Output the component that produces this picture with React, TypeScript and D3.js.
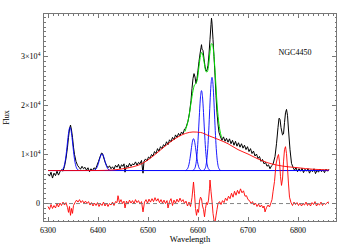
import React from "react";
import * as d3 from "d3";

// Units: flux in 10^4
const xTicks = [6300, 6400, 6500, 6600, 6700, 6800];
const yTicks = [0, 1, 2, 3];
const yTickLabels = ["0", "1×10", "2×10", "3×10"];

const spectrumWave = [6300,6303,6306,6309,6312,6315,6318,6321,6324,6327,6330,6333,6336,6339,6341,6343,6345,6347,6349,6351,6353,6356,6359,6362,6365,6368,6371,6374,6377,6380,6383,6386,6389,6392,6395,6398,6401,6404,6407,6409,6411,6414,6417,6420,6423,6426,6429,6432,6435,6438,6441,6444,6447,6450,6452,6454,6457,6460,6463,6466,6469,6472,6475,6478,6481,6484,6487,6490,6492,6495,6498,6501,6504,6507,6510,6513,6516,6519,6522,6525,6528,6531,6534,6537,6540,6543,6546,6549,6552,6555,6558,6561,6564,6567,6570,6573,6576,6580,6583,6586,6588,6590,6592,6594,6596,6598,6600,6602,6604,6606,6607,6608,6610,6612,6614,6616,6618,6620,6622,6624,6626,6627,6628,6630,6632,6634,6636,6638,6640,6642,6645,6648,6651,6654,6657,6660,6663,6666,6669,6672,6675,6678,6681,6684,6687,6690,6693,6696,6699,6702,6705,6708,6711,6714,6717,6720,6723,6726,6729,6732,6735,6738,6741,6744,6747,6750,6754,6757,6760,6762,6764,6766,6769,6771,6773,6775,6777,6779,6781,6784,6787,6790,6793,6796,6799,6802,6805,6808,6811,6814,6817,6820,6823,6826,6829,6832,6835,6838,6841,6844,6847,6850,6853,6856,6859,6862];
const spectrumFlux = [0.60,0.56,0.64,0.52,0.62,0.57,0.66,0.58,0.65,0.69,0.66,0.76,0.92,1.15,1.35,1.52,1.60,1.50,1.35,1.15,1.00,0.86,0.78,0.74,0.70,0.76,0.71,0.74,0.68,0.73,0.65,0.71,0.67,0.73,0.70,0.78,0.86,0.95,1.03,1.02,0.95,0.85,0.78,0.73,0.77,0.71,0.75,0.70,0.78,0.74,0.80,0.71,0.79,0.76,0.81,0.64,0.78,0.74,0.82,0.76,0.81,0.79,0.85,0.78,0.84,0.81,0.88,0.62,0.86,0.91,0.87,0.95,0.92,1.00,0.97,1.06,1.02,1.12,1.07,1.16,1.12,1.20,1.17,1.26,1.20,1.30,1.26,1.35,1.30,1.40,1.35,1.43,1.38,1.46,1.42,1.52,1.55,1.68,1.85,2.10,2.35,2.55,2.65,2.58,2.45,2.55,2.72,2.90,3.05,3.18,3.24,3.15,3.12,2.95,2.80,2.70,2.72,2.82,3.05,3.35,3.65,3.78,3.68,3.35,3.00,2.62,2.20,1.85,1.62,1.45,1.36,1.29,1.36,1.27,1.33,1.25,1.32,1.22,1.29,1.19,1.27,1.17,1.24,1.15,1.22,1.13,1.19,1.10,1.16,1.06,1.12,1.02,1.07,0.97,1.01,0.92,0.96,0.86,0.90,0.81,0.84,0.76,0.79,0.71,0.77,0.80,0.96,1.22,1.55,1.74,1.72,1.55,1.40,1.42,1.65,1.85,1.92,1.80,1.50,1.10,0.82,0.74,0.68,0.73,0.65,0.71,0.66,0.72,0.63,0.70,0.66,0.71,0.62,0.69,0.65,0.71,0.61,0.68,0.64,0.70,0.65,0.69,0.63,0.70,0.66,0.70];

const residualWave = [6300,6303,6306,6309,6312,6315,6318,6321,6324,6327,6330,6333,6336,6339,6341,6343,6345,6347,6349,6351,6354,6357,6360,6363,6366,6369,6372,6375,6378,6381,6384,6387,6390,6393,6396,6399,6402,6405,6408,6411,6414,6417,6420,6423,6426,6429,6432,6435,6438,6440,6443,6446,6449,6452,6454,6457,6460,6463,6466,6469,6472,6475,6478,6481,6484,6487,6490,6493,6496,6499,6502,6505,6508,6511,6514,6517,6520,6523,6526,6529,6532,6535,6538,6540,6543,6546,6549,6552,6555,6558,6561,6564,6567,6570,6573,6576,6579,6582,6585,6588,6591,6593,6595,6597,6599,6601,6603,6605,6607,6609,6611,6613,6615,6617,6619,6621,6623,6624,6626,6628,6630,6632,6634,6636,6638,6640,6643,6646,6649,6652,6655,6658,6661,6664,6667,6670,6673,6676,6679,6682,6685,6688,6691,6694,6697,6700,6703,6706,6709,6712,6715,6718,6721,6724,6727,6730,6732,6734,6737,6740,6743,6746,6748,6750,6753,6756,6759,6761,6763,6765,6767,6769,6771,6773,6775,6777,6779,6781,6783,6786,6789,6792,6795,6798,6801,6804,6807,6810,6813,6816,6819,6822,6825,6828,6831,6834,6837,6840,6843,6846,6849,6852,6855,6858,6862];
const residualFlux = [-0.06,-0.12,-0.02,-0.10,-0.04,-0.09,0.00,-0.07,0.01,-0.04,0.03,-0.03,0.02,-0.08,-0.18,-0.06,-0.24,-0.10,-0.20,-0.04,0.02,0.07,0.03,0.08,0.02,0.06,0.01,0.05,0.00,0.04,-0.03,0.02,-0.05,0.01,-0.04,0.02,-0.06,0.00,-0.04,0.03,-0.05,0.01,-0.06,0.00,-0.03,0.03,-0.04,0.04,0.02,0.16,0.02,0.08,0.00,0.05,-0.09,0.05,-0.01,0.07,0.01,0.06,0.00,0.08,0.02,0.06,-0.01,0.04,-0.17,0.03,0.08,0.01,0.09,0.03,0.10,0.04,0.12,0.05,0.10,0.02,0.08,0.01,0.07,0.00,0.06,-0.09,0.04,0.10,-0.04,0.07,0.01,0.09,0.03,0.11,0.04,0.08,0.00,0.05,-0.05,0.03,-0.06,0.12,0.44,0.20,-0.10,-0.24,-0.12,-0.18,0.05,0.13,0.10,-0.05,-0.12,-0.27,-0.10,0.02,-0.02,0.07,0.30,0.48,0.25,0.05,-0.20,-0.34,-0.38,-0.25,-0.12,0.00,0.04,-0.02,0.06,0.02,0.11,0.06,0.15,0.10,0.21,0.13,0.25,0.17,0.27,0.20,0.30,0.22,0.26,0.15,0.16,0.08,0.06,0.00,0.04,-0.03,0.01,-0.06,-0.01,-0.07,-0.03,-0.09,-0.05,-0.17,-0.08,-0.03,-0.07,0.02,0.08,0.24,0.45,0.80,0.95,1.00,0.85,0.55,0.37,0.50,0.85,1.10,1.16,1.02,0.72,0.40,0.13,0.02,-0.04,0.03,-0.02,0.02,-0.04,0.01,-0.05,0.00,-0.03,0.03,-0.04,0.01,-0.05,0.02,-0.02,0.04,-0.05,0.00,-0.03,0.03,-0.04,0.01,-0.02,0.02,0.03];

const continuumWave = [6300, 6862];
const continuumFlux = [0.673, 0.673];

const broadWave = [6300,6350,6400,6430,6450,6470,6485,6500,6520,6540,6560,6575,6590,6605,6620,6640,6660,6680,6700,6720,6740,6760,6780,6800,6830,6862];
const broadFlux = [0.673,0.673,0.674,0.685,0.71,0.75,0.80,0.89,1.05,1.22,1.36,1.43,1.46,1.45,1.39,1.31,1.22,1.10,1.01,0.91,0.83,0.78,0.75,0.73,0.70,0.686];

const totalWave = [6574,6578,6582,6586,6590,6593,6596,6599,6602,6605,6607,6609,6612,6615,6618,6621,6624,6627,6629,6632,6635,6638,6641,6644,6648];
const totalFlux = [1.47,1.60,1.78,2.05,2.30,2.42,2.45,2.55,2.80,3.02,3.08,3.05,2.90,2.72,2.68,2.80,3.10,3.26,3.25,3.00,2.55,2.05,1.70,1.48,1.34];

const oiAWave = [6326,6328,6330,6332,6334,6336,6338,6340,6342,6344,6346,6348,6350,6352,6354,6356,6358,6360,6362];
const oiAFlux = [0.673,0.685,0.707,0.755,0.842,0.978,1.159,1.349,1.497,1.553,1.497,1.349,1.159,0.978,0.842,0.755,0.707,0.685,0.673];
const oiBWave = [6390,6392,6394,6396,6398,6400,6402,6404,6406,6408,6410,6412,6414,6416,6418,6420,6422,6424,6426];
const oiBFlux = [0.673,0.678,0.686,0.705,0.738,0.791,0.861,0.934,0.991,1.013,0.991,0.934,0.861,0.791,0.738,0.705,0.686,0.678,0.673];
const niiAWave = [6575,6577,6579,6581,6583,6585,6587,6589,6591,6593,6595,6597,6599,6601,6603,6605,6607];
const niiAFlux = [0.673,0.686,0.709,0.761,0.854,0.990,1.145,1.273,1.323,1.273,1.145,0.990,0.854,0.761,0.709,0.686,0.673];
const haWave = [6589,6591,6593,6595,6597,6599,6601,6603,6605,6607,6609,6611,6613,6615,6617,6619,6621,6623,6625];
const haFlux = [0.673,0.683,0.706,0.764,0.893,1.126,1.467,1.856,2.177,2.303,2.177,1.856,1.467,1.126,0.893,0.764,0.706,0.683,0.673];
const niiBWave = [6610,6612,6614,6616,6618,6620,6622,6624,6626,6628,6630,6632,6634,6636,6638,6640,6642,6644,6646];
const niiBFlux = [0.673,0.684,0.711,0.779,0.930,1.201,1.598,2.052,2.427,2.573,2.427,2.052,1.598,1.201,0.930,0.779,0.711,0.684,0.673];

const W = 350, H = 250;
const L = 43, R = 337, T = 13, B = 222;

export default function App() {
  const x = d3.scaleLinear().domain([6290, 6878]).range([L, R]);
  const y = d3.scaleLinear().domain([-0.376, 3.886]).range([B, T]);

  const pts = (ws: number[], fs: number[]) => ws.map((w, i) => [w, fs[i]] as [number, number]);
  const lin = d3.line<[number, number]>().x(d => x(d[0])).y(d => y(d[1]));
  const smooth = d3.line<[number, number]>().x(d => x(d[0])).y(d => y(d[1])).curve(d3.curveMonotoneX);

  const xMinor = d3.range(6290, 6880, 10);
  const yMinor = d3.range(-3, 39, 1).map(v => v / 10);
  const axisColor = "#777";
  const font = "'Liberation Serif', 'DejaVu Serif', serif";

  const narrow: [number[], number[]][] = [
    [oiAWave, oiAFlux], [oiBWave, oiBFlux], [niiAWave, niiAFlux], [haWave, haFlux], [niiBWave, niiBFlux],
  ];

  return (
    <svg width={W} height={H} style={{ position: "absolute", left: 0, top: 0, background: "#fff" }}>
      <defs>
        <clipPath id="plotclip">
          <rect x={L} y={T} width={R - L} height={B - T} />
        </clipPath>
      </defs>
      <g clipPath="url(#plotclip)" fill="none">
        <path d={lin(pts(spectrumWave, spectrumFlux)) || ""} stroke="#000" strokeWidth={1} />
        <path d={lin(pts(continuumWave, continuumFlux)) || ""} stroke="#0000ff" strokeWidth={1} />
        {narrow.map((n, i) => (
          <path key={i} d={smooth(pts(n[0], n[1])) || ""} stroke="#0000ff" strokeWidth={0.9} />
        ))}
        <path d={smooth(pts(broadWave, broadFlux)) || ""} stroke="#ff0000" strokeWidth={0.9} />
        <path d={smooth(pts(totalWave, totalFlux)) || ""} stroke="#00e000" strokeWidth={1} />
        <path d={lin(pts(residualWave, residualFlux)) || ""} stroke="#ff0000" strokeWidth={0.9} />
        <line x1={x(6300)} x2={x(6862)} y1={y(0)} y2={y(0)} stroke="#777" strokeWidth={0.9} strokeDasharray="4,3" />
      </g>
      <g stroke={axisColor} strokeWidth={1} shapeRendering="crispEdges">
        <rect x={L + 0.5} y={T + 0.5} width={R - L - 1} height={B - T - 1} fill="none" />
        {xMinor.map(v => (
          <g key={"xm" + v}>
            <line x1={x(v)} x2={x(v)} y1={B} y2={B - 2.5} />
            <line x1={x(v)} x2={x(v)} y1={T} y2={T + 2.5} />
          </g>
        ))}
        {xTicks.map(v => (
          <g key={"xM" + v}>
            <line x1={x(v)} x2={x(v)} y1={B} y2={B - 5} />
            <line x1={x(v)} x2={x(v)} y1={T} y2={T + 5} />
          </g>
        ))}
        {yMinor.map(v => (
          <g key={"ym" + v}>
            <line x1={L} x2={L + 2.5} y1={y(v)} y2={y(v)} />
            <line x1={R} x2={R - 2.5} y1={y(v)} y2={y(v)} />
          </g>
        ))}
        {yTicks.map(v => (
          <g key={"yM" + v}>
            <line x1={L} x2={L + 5} y1={y(v)} y2={y(v)} />
            <line x1={R} x2={R - 5} y1={y(v)} y2={y(v)} />
          </g>
        ))}
      </g>
      <g fontFamily={font} fill="#000" fontSize={8}>
        {xTicks.map(v => (
          <text key={"xl" + v} x={x(v)} y={233} textAnchor="middle">{v}</text>
        ))}
        {yTicks.map((v, i) => (
          <text key={"yl" + v} x={v === 0 ? 40 : 37.5} y={y(v) + 2.8} textAnchor="end">
            {yTickLabels[i]}
          </text>
        ))}
        {yTicks.filter(v => v > 0).map(v => (
          <text key={"ys" + v} x={37.8} y={y(v) - 0.5} fontSize={5.5}>4</text>
        ))}
        <text x={190} y={242} textAnchor="middle" fontSize={8.5}>Wavelength</text>
        <text transform={`translate(8.5, ${(T + B) / 2}) rotate(-90)`} textAnchor="middle" fontSize={8}>Flux</text>
        <text x={295} y={55} textAnchor="middle" fontSize={8}>NGC4450</text>
      </g>
    </svg>
  );
}
